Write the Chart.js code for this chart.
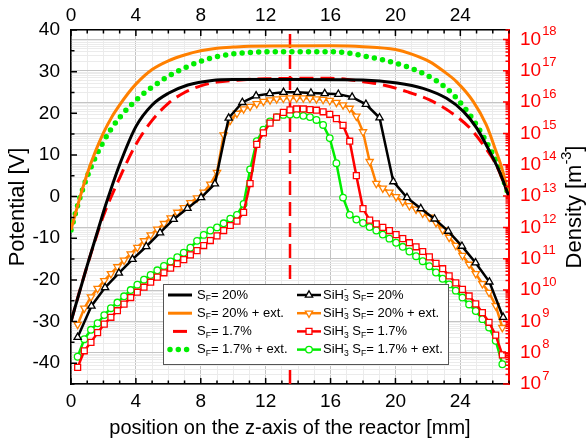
<!DOCTYPE html>
<html>
<head>
<meta charset="utf-8">
<title>Potential and SiH3- density along the reactor axis</title>
<script src="https://cdn.jsdelivr.net/npm/chart.js@4.4.1/dist/chart.umd.min.js"></script>
<style>
  html, body { margin: 0; padding: 0; background: #fff; }
</style>
</head>
<body>
<canvas id="chartPotencial" width="586" height="446"></canvas>
<script>
// axis ranges / ticks
const zAxisRange = [0, 27];
const potentialRange = [-45, 40];
const densityRange = [1e7, 2e18];
const zTickLabels = [0, 4, 8, 12, 16, 20, 24];
const potentialTicks = [-40, -30, -20, -10, 0, 10, 20, 30, 40];
const densityDecades = [7, 8, 9, 10, 11, 12, 13, 14, 15, 16, 17, 18];
const centerZ = 13.5;

// potential curves (left axis, V)
const zSf20 = [0, 1, 2, 2.3, 3, 4, 5, 6, 7.2, 8.7, 10, 14, 18, 20.1, 21.7, 23.15, 24.2, 25, 25.8, 26.4, 27];
const vSf20 = [-30, -16.5, -3.7, -0.1, 7.7, 16.8, 22.0, 24.8, 26.8, 27.9, 28.1, 28.1, 28.0, 27.3, 26.0, 23.6, 20.4, 16.5, 10.9, 6.1, 0];
const zSf20ext = [0, 0.5, 1, 1.5, 2, 2.5, 3, 3.5, 4, 5, 6, 7, 8, 9, 10, 11, 16, 18, 20, 21, 22.1, 23, 23.76, 24.8, 25.6, 26.2, 26.6, 27];
const vSf20ext = [-8, -0.9, 5.5, 10.8, 15.3, 19.0, 22.0, 24.7, 27.0, 30.5, 32.6, 34.0, 35.0, 35.6, 35.9, 36.1, 36.2, 36.0, 35.3, 34.2, 32.4, 30.0, 27.6, 22.8, 17.2, 10.9, 6.3, 0];
const zSf17 = [0, 0.6, 1.25, 2, 3, 4, 5, 6, 7, 8, 9, 10, 12, 16, 18, 19.25, 20.7, 22.1, 23.35, 24.58, 25.4, 26.2, 27];
const vSf17 = [-30, -21.8, -13.4, -4.6, 4.5, 12.5, 18.3, 22.4, 25.0, 26.6, 27.5, 27.9, 28.3, 28.4, 27.6, 26.8, 25.2, 23.2, 20.4, 16.5, 12.5, 7.7, 0];
const zSf17ext = [0, 0.5, 1, 1.5, 2, 2.5, 3, 3.5, 4, 4.5, 5, 6, 7, 8, 9, 10, 11, 12, 16, 17, 18, 19.25, 20.7, 21.9, 23.15, 24.2, 25, 25.8, 26.4, 27];
const vSf17ext = [-8, -0.9, 4.8, 9.4, 13.2, 16.4, 19.0, 21.2, 23.1, 24.8, 26.3, 28.9, 30.9, 32.5, 33.6, 34.3, 34.6, 34.8, 34.8, 34.5, 33.8, 32.8, 31.2, 29.2, 26.0, 21.6, 17.2, 11.7, 6.9, 0];

// SiH3- density (right axis, log10 of m^-3)
const zCoarse = [0.41, 1.26, 2.1, 2.95, 3.79, 4.64, 5.49, 6.33, 7.18, 8.02, 8.87, 9.72, 10.56, 11.41, 12.25, 13.1,
  13.95, 14.79, 15.64, 16.48, 17.33, 18.18, 19.02, 19.87, 20.71, 21.56, 22.41, 23.25, 24.1, 24.94, 25.79, 26.64];
const zFine = [0.41, 0.82, 1.23, 1.64, 2.05, 2.46, 2.86, 3.27, 3.68, 4.09, 4.5, 4.91, 5.32, 5.73, 6.14, 6.55, 6.95,
  7.36, 7.77, 8.18, 8.59, 9, 9.41, 9.82, 10.23, 10.64, 11.04, 11.45, 11.86, 12.27, 12.68, 13.09, 13.5, 13.91, 14.32,
  14.73, 15.13, 15.54, 15.95, 16.36, 16.77, 17.18, 17.59, 18, 18.41, 18.82, 19.22, 19.63, 20.04, 20.45, 20.86, 21.27,
  21.68, 22.09, 22.5, 22.91, 23.31, 23.72, 24.13, 24.54, 24.95, 25.36, 25.77, 26.18, 26.59];
const logSiH3Sf20 = [8.49, 9.49, 10.08, 10.54, 10.98, 11.39, 11.83, 12.26, 12.61, 12.95, 13.39, 15.49, 15.99, 16.2, 16.27, 16.31,
  16.31, 16.29, 16.27, 16.25, 16.16, 15.93, 15.5, 13.46, 12.95, 12.6, 12.27, 11.88, 11.4, 10.87, 10.26, 9.13];
const logSiH3Sf20ext = [8.9, 9.42, 9.78, 10.05, 10.3, 10.52, 10.74, 10.95, 11.15, 11.36, 11.57, 11.76, 11.94, 12.12, 12.3,
  12.48, 12.63, 12.79, 12.94, 13.12, 13.38, 13.75, 14.95, 15.42, 15.64, 15.78, 15.86, 15.95, 16.02, 16.07, 16.1, 16.12,
  16.13, 16.13, 16.13, 16.12, 16.1, 16.08, 16.05, 15.99, 15.91, 15.8, 15.55, 15.05, 14.1, 13.4, 13.25, 13.12, 12.98,
  12.82, 12.69, 12.58, 12.45, 12.32, 12.15, 11.92, 11.68, 11.42, 11.1, 10.82, 10.52, 10.2, 9.92, 9.5, 8.8];
const logSiH3Sf17 = [7.53, 8.06, 8.33, 8.64, 8.91, 9.13, 9.34, 9.55, 9.76, 9.93, 10.09, 10.25, 10.41, 10.55, 10.7, 10.84,
  10.97, 11.12, 11.26, 11.42, 11.58, 11.73, 11.9, 12.06, 12.2, 12.48, 13.4, 14.65, 15.02, 15.33, 15.52, 15.67, 15.75,
  15.78, 15.78, 15.76, 15.74, 15.69, 15.61, 15.47, 15.26, 14.75, 13.65, 12.6, 12.23, 12.11, 12.0, 11.9, 11.77, 11.64,
  11.51, 11.38, 11.23, 11.06, 10.85, 10.68, 10.45, 10.23, 10.02, 9.81, 9.56, 9.28, 8.97, 8.56, 7.93];
const logSiH3Sf17ext = [7.87, 8.43, 8.73, 8.94, 9.2, 9.42, 9.6, 9.8, 10.0, 10.17, 10.33, 10.48, 10.63, 10.77, 10.91, 11.05,
  11.19, 11.35, 11.57, 11.76, 11.9, 12.0, 12.13, 12.28, 12.4, 12.75, 13.85, 14.75, 15.12, 15.38, 15.52, 15.59, 15.6,
  15.6, 15.56, 15.52, 15.43, 15.27, 14.85, 14.05, 12.95, 12.4, 12.25, 12.14, 12.01, 11.9, 11.77, 11.64, 11.51, 11.38,
  11.23, 11.08, 10.92, 10.76, 10.56, 10.36, 10.18, 9.98, 9.76, 9.54, 9.33, 9.07, 8.8, 8.38, 7.63];

const fontFamily = "'Liberation Sans', Arial, sans-serif";
const densityColor = '#ff0000';
const gridMajor = '#c4c4c4';
const gridMinor = '#ebebeb';

function toPoints(xs, ys, conv) {
    return xs.map((x, i) => ({ x: x, y: conv ? conv(ys[i]) : ys[i] }));
}
const fromLog = v => Math.pow(10, v);

// S_F labels, drawn with subscripts in the legend
const sf = txt => [{ t: 'S' }, { sub: 'F' }, { t: txt }];
const sih3 = txt => [{ t: 'SiH' }, { sub: '3', sup: '-' }, { t: ' S' }, { sub: 'F' }, { t: txt }];

const series = [
    { col: 1, row: 0, parts: sih3('= 20%'), xs: zCoarse, ys: logSiH3Sf20, color: '#000000', style: 'triangle', rot: 0, r: 4.2 },
    { col: 1, row: 1, parts: sih3('= 20% + ext.'), xs: zFine, ys: logSiH3Sf20ext, color: '#ff8000', style: 'triangle', rot: 180, r: 4.2 },
    { col: 1, row: 2, parts: sih3('= 1.7%'), xs: zFine, ys: logSiH3Sf17, color: '#ff0000', style: 'rect', rot: 0, r: 4.2 },
    { col: 1, row: 3, parts: sih3('= 1.7% + ext.'), xs: zFine, ys: logSiH3Sf17ext, color: '#00ee00', style: 'circle', rot: 0, r: 3.3 },
    { col: 0, row: 0, parts: sf('= 20%'), xs: zSf20, ys: vSf20, color: '#000000', dash: [] },
    { col: 0, row: 1, parts: sf('= 20% + ext.'), xs: zSf20ext, ys: vSf20ext, color: '#ff8000', dash: [] },
    { col: 0, row: 2, parts: sf('= 1.7%'), xs: zSf17, ys: vSf17, color: '#ff0000', dash: [14, 7] },
    { col: 0, row: 3, parts: sf('= 1.7% + ext.'), xs: zSf17ext, ys: vSf17ext, color: '#00ee00', dash: [0, 8.3], dots: true },
];

const datasets = series.map(s => {
    if (s.col === 1) {
        return {
            data: toPoints(s.xs, s.ys, fromLog),
            yAxisID: 'y2',
            borderColor: s.color,
            borderWidth: 2.5,
            tension: 0,
            pointStyle: s.style,
            pointRotation: s.rot,
            pointRadius: s.r,
            pointBackgroundColor: '#ffffff',
            pointBorderColor: s.color,
            pointBorderWidth: 1.3
        };
    }
    return {
        data: toPoints(s.xs, s.ys),
        yAxisID: 'y',
        borderColor: s.color,
        borderWidth: s.dots ? 5.5 : 3,
        borderDash: s.dash,
        borderCapStyle: s.dots ? 'round' : 'butt',
        cubicInterpolationMode: 'monotone',
        pointRadius: 0
    };
});

// reactor centre line
datasets.push({
    data: [{ x: centerZ, y: potentialRange[0] }, { x: centerZ, y: potentialRange[1] }],
    yAxisID: 'y',
    borderColor: '#ff0000',
    borderWidth: 2.5,
    borderDash: [14, 7],
    pointRadius: 0
});

function drawRich(ctx, parts, x, y, size, measureOnly) {
    let cx = x;
    for (const p of parts) {
        if (p.t !== undefined) {
            ctx.font = `${size}px ${fontFamily}`;
            if (!measureOnly) ctx.fillText(p.t, cx, y);
            cx += ctx.measureText(p.t).width;
        } else {
            ctx.font = `${size * 0.66}px ${fontFamily}`;
            let w = 0;
            if (p.sub) {
                if (!measureOnly) ctx.fillText(p.sub, cx, y + size * 0.3);
                w = ctx.measureText(p.sub).width;
            }
            if (p.sup) {
                if (!measureOnly) ctx.fillText(p.sup, cx, y - size * 0.38);
                w = Math.max(w, ctx.measureText(p.sup).width);
            }
            cx += w;
        }
    }
    return cx - x;
}

const decorPlugin = {
    id: 'decor',
    afterDatasetsDraw(chart) {
        const { ctx, chartArea: a, scales } = chart;
        ctx.save();

        // inward tick marks
        ctx.lineWidth = 1.5;
        ctx.strokeStyle = '#000';
        ctx.beginPath();
        scales.x.ticks.forEach(t => {
            const px = scales.x.getPixelForValue(t.value);
            const len = zTickLabels.includes(t.value) ? 6 : 3.5;
            ctx.moveTo(px, a.bottom); ctx.lineTo(px, a.bottom - len);
            ctx.moveTo(px, a.top); ctx.lineTo(px, a.top + len);
        });
        for (let v = potentialRange[0]; v <= potentialRange[1]; v += 5) {
            const py = scales.y.getPixelForValue(v);
            const len = potentialTicks.includes(v) ? 6 : 3.5;
            ctx.moveTo(a.left, py); ctx.lineTo(a.left + len, py);
        }
        ctx.stroke();

        ctx.strokeStyle = densityColor;
        ctx.beginPath();
        scales.y2.ticks.forEach(t => {
            const py = scales.y2.getPixelForValue(t.value);
            const lg = Math.log10(t.value);
            const len = Math.abs(lg - Math.round(lg)) < 1e-6 ? 6 : 3.5;
            ctx.moveTo(a.right, py); ctx.lineTo(a.right - len, py);
        });
        ctx.stroke();

        // right axis labels 10^n
        ctx.fillStyle = densityColor;
        ctx.textBaseline = 'middle';
        ctx.textAlign = 'left';
        densityDecades.forEach(e => {
            const py = scales.y2.getPixelForValue(Math.pow(10, e));
            ctx.font = `19px ${fontFamily}`;
            ctx.fillText('10', a.right + 11, py);
            const w = ctx.measureText('10').width;
            ctx.font = `13px ${fontFamily}`;
            ctx.fillText(String(e), a.right + 12 + w, py - 8);
        });

        // right axis title
        ctx.fillStyle = '#000';
        const titleParts = [{ t: 'Density [m' }, { sup: '-3' }, { t: ']' }];
        const tw = drawRich(ctx, titleParts, 0, 0, 22, true);
        ctx.save();
        ctx.translate(575, (a.top + a.bottom) / 2);
        ctx.rotate(-Math.PI / 2);
        drawRich(ctx, titleParts, -tw / 2, 0, 22);
        ctx.restore();

        // legend
        const box = { left: 163, top: 284, width: 285, height: 80 };
        ctx.fillStyle = '#fff';
        ctx.fillRect(box.left, box.top, box.width, box.height);
        ctx.strokeStyle = '#555';
        ctx.lineWidth = 1;
        ctx.strokeRect(box.left + 0.5, box.top + 0.5, box.width, box.height);

        series.forEach((s, i) => {
            const ds = chart.data.datasets[i];
            const y = box.top + 11 + s.row * 18.2;
            const x0 = s.col === 0 ? box.left + 5 : box.left + 134;
            const x1 = x0 + 24;
            ctx.save();
            ctx.strokeStyle = ds.borderColor;
            ctx.lineWidth = ds.borderWidth;
            ctx.lineCap = ds.borderCapStyle || 'butt';
            ctx.setLineDash(ds.borderDash || []);
            if (s.dash && s.dash.length && !s.dots) ctx.lineDashOffset = -5;
            ctx.beginPath();
            ctx.moveTo(s.dots ? x0 + 2 : x0, y);
            ctx.lineTo(s.dots ? x1 - 3 : x1, y);
            ctx.stroke();
            ctx.restore();
            if (s.col === 1) {
                ctx.save();
                ctx.strokeStyle = s.color;
                ctx.fillStyle = '#fff';
                ctx.lineWidth = 1.3;
                Chart.helpers.drawPoint(ctx, { pointStyle: s.style, radius: s.r, rotation: s.rot, borderWidth: 1.3 }, (x0 + x1) / 2, y);
                ctx.restore();
            }
            ctx.fillStyle = '#000';
            ctx.textBaseline = 'middle';
            ctx.textAlign = 'left';
            drawRich(ctx, s.parts, s.col === 0 ? box.left + 34 : box.left + 160, y, 13);
        });

        ctx.restore();
    }
};

const tickFont = { family: fontFamily, size: 19 };

const chartPotencial = new Chart(document.getElementById('chartPotencial'), {
    type: 'line',
    data: { datasets: datasets },
    options: {
        responsive: false,
        animation: false,
        devicePixelRatio: 1,
        layout: { padding: 0 },
        plugins: { legend: { display: false }, tooltip: { enabled: false } },
        scales: {
            x: {
                type: 'linear',
                position: 'bottom',
                min: zAxisRange[0],
                max: zAxisRange[1],
                afterFit: s => { s.height = 62; },
                afterBuildTicks: s => {
                    const ticks = [];
                    for (let z = zAxisRange[0]; z <= zAxisRange[1]; z++) ticks.push({ value: z });
                    s.ticks = ticks;
                },
                ticks: {
                    autoSkip: false, maxRotation: 0, padding: 6, color: '#000', font: tickFont,
                    callback: v => zTickLabels.includes(v) ? String(v) : ''
                },
                grid: {
                    drawTicks: false,
                    lineWidth: 1,
                    color: c => zTickLabels.includes(c.tick.value) ? gridMajor : gridMinor
                },
                border: { color: '#000', width: 1.5 },
                title: {
                    display: true, text: 'position on the z-axis of the reactor [mm]', color: '#000',
                    font: { family: fontFamily, size: 20 }, padding: { top: 0, bottom: 6 }
                }
            },
            x2: {
                type: 'linear',
                position: 'top',
                min: zAxisRange[0],
                max: zAxisRange[1],
                afterFit: s => { s.height = 30; },
                afterBuildTicks: s => { s.ticks = zTickLabels.map(v => ({ value: v })); },
                ticks: { autoSkip: false, maxRotation: 0, padding: 3, color: '#000', font: tickFont },
                grid: { display: false, drawTicks: false },
                border: { color: '#000', width: 1.5 }
            },
            y: {
                type: 'linear',
                position: 'left',
                min: potentialRange[0],
                max: potentialRange[1],
                afterFit: s => { s.width = 71; },
                afterBuildTicks: s => { s.ticks = potentialTicks.map(v => ({ value: v })); },
                ticks: { padding: 11, color: '#000', font: tickFont },
                grid: { display: false, drawTicks: false },
                border: { color: '#000', width: 1.5 },
                title: {
                    display: true, text: 'Potential [V]', color: '#000',
                    font: { family: fontFamily, size: 22 }, padding: { top: 5, bottom: 0 }
                }
            },
            y2: {
                type: 'logarithmic',
                position: 'right',
                min: densityRange[0],
                max: densityRange[1],
                afterFit: s => { s.width = 77; },
                afterBuildTicks: s => {
                    const ticks = [];
                    densityDecades.forEach(e => {
                        for (let m = 1; m <= 9; m++) {
                            const v = m * Math.pow(10, e);
                            if (v <= densityRange[1]) ticks.push({ value: v });
                        }
                    });
                    s.ticks = ticks;
                },
                ticks: { display: false },
                grid: {
                    drawTicks: false,
                    lineWidth: 1,
                    color: c => {
                        const lg = Math.log10(c.tick.value);
                        return Math.abs(lg - Math.round(lg)) < 1e-6 ? gridMajor : gridMinor;
                    }
                },
                border: { color: densityColor, width: 2 }
            }
        }
    },
    plugins: [decorPlugin]
});
</script>
</body>
</html>
